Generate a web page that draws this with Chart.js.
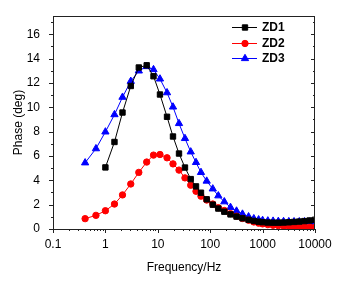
<!DOCTYPE html>
<html lang="en">
<head>
  <meta charset="UTF-8">
  <title>Phase vs Frequency</title>
  <script src="https://cdn.jsdelivr.net/npm/chart.js"></script>
  <style>
    body {
      margin: 0;
      background: white;
    }
    #wrap {
      width: 339px;
      height: 287px;
      position: relative;
    }
  </style>
</head>
<body>

<div id="wrap"><canvas id="phaseChart"></canvas></div>

<script>
  // frequencies (Hz) shared by all three samples
  const freq = [0.41, 0.66, 1, 1.49, 2.12, 3.05, 4.34, 6.14, 8.28, 11, 15, 19.5, 25.4, 33, 42.5,
    53.6, 66.7, 85.7, 112, 143, 186, 244, 318, 413, 540, 680, 840, 1000, 1259, 1585, 1995,
    2512, 3162, 3981, 5012, 6310, 7943, 10000];

  // ZD1 starts at 1 Hz
  const zd1 = [5.06, 7.15, 9.57, 11.75, 13.27, 13.45, 12.55, 11.05, 9.22, 7.6, 6.2, 5.05, 4.1,
    3.5, 2.98, 2.44, 2.0, 1.68, 1.42, 1.2, 1.02, 0.88, 0.76, 0.66, 0.6, 0.56, 0.53, 0.52, 0.52,
    0.53, 0.55, 0.58, 0.61, 0.65, 0.7, 0.76];
  const zd2 = [0.85, 1.12, 1.5, 2.05, 2.8, 3.7, 4.65, 5.5, 6.07, 6.12, 5.85, 5.35, 4.84, 4.2,
    3.6, 3.1, 2.7, 2.38, 2.05, 1.75, 1.52, 1.26, 1.05, 0.87, 0.72, 0.58, 0.48, 0.42, 0.36, 0.31,
    0.28, 0.25, 0.22, 0.2, 0.18, 0.17, 0.15, 0.14];
  const zd3 = [5.44, 6.6, 7.98, 9.4, 10.83, 12.14, 12.99, 13.35, 13.1, 12.33, 11.2, 10.03, 8.67,
    7.44, 6.34, 5.47, 4.65, 3.94, 3.3, 2.73, 2.24, 1.78, 1.48, 1.23, 1.01, 0.85, 0.76, 0.71,
    0.67, 0.65, 0.63, 0.62, 0.61, 0.6, 0.6, 0.6, 0.58, 0.56];

  const xTicks = [0.1, 1, 10, 100, 1000, 10000];
  const xTickLabels = ["0.1", "1", "10", "100", "1000", "10000"];
  const yTicks = [0, 2, 4, 6, 8, 10, 12, 14, 16];

  const FONT = "'Liberation Sans', Arial, sans-serif";

  function toPoints(values, offset) {
    return values.map((v, i) => ({ x: freq[i + offset], y: v }));
  }

  // frame, minor ticks and the legend are drawn by hand
  const framePlugin = {
    id: "frame",
    afterDraw(chart) {
      const ctx = chart.ctx;
      const a = chart.chartArea;
      const xs = chart.scales.x;
      const ys = chart.scales.y;
      ctx.save();
      ctx.strokeStyle = "#222";
      ctx.lineWidth = 1;
      ctx.strokeRect(a.left + 0.5, a.top + 0.5, a.right - a.left - 1, a.bottom - a.top);

      ctx.beginPath();
      // x ticks, outward
      for (let d = 0.1; d <= 10000; d *= 10) {
        for (let m = 1; m < 10; m++) {
          const v = d * m;
          if (v > 10000.5) break;
          const px = Math.round(xs.getPixelForValue(v)) + 0.5;
          const len = m === 1 ? 4 : 2;
          ctx.moveTo(px, a.bottom);
          ctx.lineTo(px, a.bottom + len);
        }
      }
      // y ticks, outward on the left and inward on the right
      for (let v = 0; v <= 17; v++) {
        const py = Math.round(ys.getPixelForValue(v)) + 0.5;
        const len = v % 2 === 0 ? 4 : 2;
        ctx.moveTo(a.left, py);
        ctx.lineTo(a.left - len, py);
        ctx.moveTo(a.right, py);
        ctx.lineTo(a.right - len, py);
      }
      ctx.stroke();

      // legend
      const rows = [27, 43, 58];
      chart.data.datasets.forEach((ds, i) => {
        const y = rows[i];
        ctx.strokeStyle = ds.borderColor;
        ctx.fillStyle = ds.backgroundColor;
        ctx.lineWidth = 1;
        ctx.beginPath();
        ctx.moveTo(232, y + 0.5);
        ctx.lineTo(257, y + 0.5);
        ctx.stroke();
        Chart.helpers.drawPoint(ctx, {
          pointStyle: ds.pointStyle,
          radius: ds.pointRadius,
          borderWidth: 1
        }, 245, y + 0.5);
        ctx.fillStyle = "#000";
        ctx.font = "bold 12px " + FONT;
        ctx.textBaseline = "middle";
        ctx.textAlign = "left";
        ctx.fillText(ds.label, 262, y + 1);
      });
      ctx.restore();
    }
  };

  function makeSet(label, color, style, radius, values, offset) {
    return {
      label: label,
      data: toPoints(values, offset),
      borderColor: color,
      backgroundColor: color,
      pointBackgroundColor: color,
      pointBorderColor: color,
      pointStyle: style,
      pointRadius: radius,
      borderWidth: 1,
      tension: 0
    };
  }

  const ctx = document.getElementById("phaseChart").getContext("2d");
  new Chart(ctx, {
    type: "line",
    data: {
      datasets: [
        makeSet("ZD1", "#000000", "rect", 3.8, zd1, 2),
        makeSet("ZD2", "#ff0000", "circle", 3.2, zd2, 0),
        makeSet("ZD3", "#0000ff", "triangle", 4.2, zd3, 0)
      ]
    },
    options: {
      responsive: true,
      maintainAspectRatio: false,
      animation: false,
      layout: { padding: { top: 16, right: 24, left: 0, bottom: 0 } },
      plugins: {
        legend: { display: false },
        tooltip: { enabled: false }
      },
      scales: {
        x: {
          type: "logarithmic",
          min: 0.1,
          max: 10000,
          grid: { display: false },
          border: { display: false },
          afterBuildTicks: s => { s.ticks = xTicks.map(v => ({ value: v })); },
          afterFit: s => { s.height = 58; },
          ticks: {
            padding: 0,
            maxRotation: 0,
            color: "#000",
            font: { family: FONT, size: 12 },
            callback: (v) => {
              const i = xTicks.findIndex(t => Math.abs(t - v) < t * 1e-6);
              return i >= 0 ? xTickLabels[i] : "";
            }
          },
          title: {
            display: true,
            text: "Frequency/Hz",
            color: "#000",
            font: { family: FONT, size: 12 },
            padding: { top: 0, bottom: 12 }
          }
        },
        y: {
          min: 0,
          max: 17.5,
          grid: { display: false },
          border: { display: false },
          afterBuildTicks: s => { s.ticks = yTicks.map(v => ({ value: v })); },
          afterFit: s => { s.width = 53; },
          ticks: {
            padding: 5,
            color: "#000",
            font: { family: FONT, size: 12 }
          },
          title: {
            display: true,
            text: "Phase (deg)",
            color: "#000",
            font: { family: FONT, size: 12 },
            padding: { top: 11, bottom: 0 }
          }
        }
      }
    },
    plugins: [framePlugin]
  });
</script>

</body>
</html>
